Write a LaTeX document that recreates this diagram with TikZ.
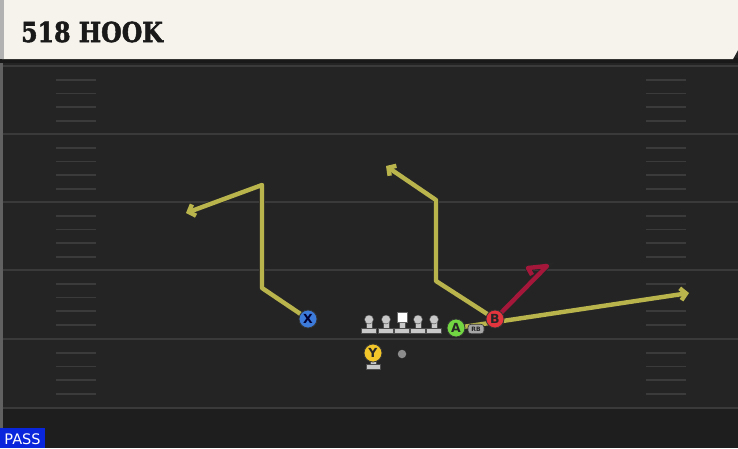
\documentclass[tikz,border=0pt]{standalone}
\usepackage{fontspec}
\setmainfont{DejaVu Sans}
\newfontfamily\headfont{DejaVu Serif}[FakeBold=2]
\usetikzlibrary{arrows.meta}
\definecolor{field}{HTML}{242424}
\definecolor{fielddark}{HTML}{1E1E1E}
\definecolor{yardline}{HTML}{3A3A3A}
\definecolor{hashc}{HTML}{3B3B3B}
\definecolor{cream}{HTML}{F5F3EC}
\definecolor{routey}{HTML}{B9B54C}
\definecolor{router}{HTML}{A5173A}
\definecolor{pblue}{HTML}{3C7BDA}
\definecolor{pred}{HTML}{E2353D}
\definecolor{pgreen}{HTML}{72D643}
\definecolor{pyellow}{HTML}{F2C62A}
\definecolor{linegray}{HTML}{C8C8C8}
\definecolor{passblue}{HTML}{0A26DC}
\tikzset{
  route/.style={draw=routey, line width=4.4pt, line join=round,
    preaction={draw=black!85, line width=5.8pt}},
  redroute/.style={draw=router, line width=4.4pt, line join=round,
    preaction={draw=black!85, line width=5.8pt}},
  tipped/.style={-{Straight Barb[length=5.5pt,width=12pt]}},
  player/.style={circle, minimum size=18pt, inner sep=0pt, draw=black!80, line width=0.8pt,
    font=\bfseries\fontsize{12.5}{12}\selectfont, text=black!85},
  yard/.style={draw=yardline, line width=2pt},
  hash/.style={draw=hashc, line width=1.8pt},
  lmpart/.style={fill=linegray, draw=black!70, line width=0.4pt},
}
\begin{document}
\begin{tikzpicture}[x=1pt,y=-1pt]
\useasboundingbox (0,0) rectangle (738,448);
% field
\fill[field] (0,0) rectangle (738,448);
\fill[fielddark] (0,408) rectangle (738,448);
\fill[yardline!80] (0,60) rectangle (2.5,448);
% yard lines
\foreach \y in {66,134,202,270,339,408} \draw[yard] (2.5,\y) -- (738,\y);
% hash marks
\foreach \b in {66,134,202,270,339} {
  \foreach \k in {1,2,3,4} {
    \draw[hash] (56,{\b+\k*13.7}) -- (96,{\b+\k*13.7});
    \draw[hash] (646,{\b+\k*13.7}) -- (686,{\b+\k*13.7});
  }
}
% header
\fill[black!90] (0,58) rectangle (738,63);
\fill[cream] (2,0) -- (738,0) -- (738,50) -- (733,59) -- (2,59) -- cycle;
\fill[black!30] (0,0) rectangle (3.5,59);
\node[anchor=base west, inner sep=0pt, text=black!90] (title) at (21,42)
  {\scalebox{0.86}[1]{\headfont\bfseries\fontsize{27.5}{28}\selectfont 518 HOOK}};
% players positions
\coordinate (Xp) at (308,319);
\coordinate (Ap) at (456,328);
\coordinate (Bp) at (495,319);
% route corner coordinates
\coordinate (x1) at (262,288);
\coordinate (x2) at (262,185);
\coordinate (x3) at (186,213);
\coordinate (b1) at (436,281);
\coordinate (b2) at (436,200);
\coordinate (b3) at (386,166);
\coordinate (a1) at (689,293);
\coordinate (r1) at (547,266);
\coordinate (r2) at (528,268);
\coordinate (r3) at (532,275);
% routes
\draw[route, tipped] (Xp) -- (x1) -- (x2) -- (x3);
\draw[route, tipped] (Bp) -- (b1) -- (b2) -- (b3);
\draw[route, tipped] (Ap) -- (a1);
\draw[redroute] (Bp) -- (r1) -- (r2) -- (r3);
% linemen
\foreach \x/\n in {369/l1,386/l2,418/l4,434/l5} {
  \fill[lmpart] (\x-3,321) rectangle (\x+3,329);
  \fill[lmpart] (\x-7.5,328) rectangle (\x+7.5,333.5);
  \node[circle, lmpart, minimum size=9pt, inner sep=0pt] (\n) at (\x,319.5) {};
}
\fill[lmpart] (399,320) rectangle (405,329);
\fill[lmpart] (394.5,328) rectangle (409.5,333.5);
\node[rectangle, fill=white, draw=black!60, line width=0.4pt, minimum size=9.5pt, inner sep=0pt] (ctr) at (402,317) {};
% Y base
\fill[lmpart] (370.5,360) rectangle (376,365);
\fill[lmpart] (366,364) rectangle (380.5,369);
% ball
\node[circle, fill=black!45, minimum size=8.5pt, inner sep=0pt] (ball) at (402,354) {};
% RB tag
\node[rounded corners=3pt, fill=black!35, draw=black!80, line width=0.6pt, minimum width=16pt, minimum height=9.5pt, inner sep=0pt,
  font=\bfseries\fontsize{6}{6}\selectfont, text=black!85] (rb) at (476,329) {RB};
% skill players
\node[player, fill=pblue, text=black!80!blue] (X) at (Xp) {X};
\node[player, fill=pgreen] (A) at (Ap) {A};
\node[player, fill=pred] (B) at (Bp) {B};
\node[player, fill=pyellow] (Y) at (373,353) {Y};
% PASS label
\fill[passblue] (0,428) rectangle (45,448);
\node[anchor=base, text=white, inner sep=0pt, font=\fontsize{14.5}{15}\selectfont] (pass) at (22.5,444.5) {PASS};
\end{tikzpicture}
\end{document}
